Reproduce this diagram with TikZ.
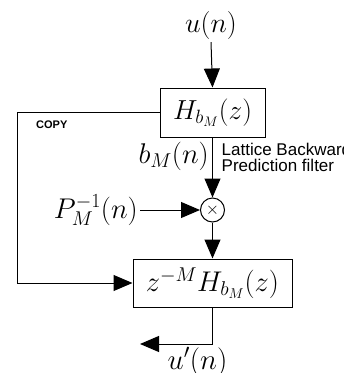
\RequirePackage{fix-cm}
\documentclass[tikz,border=0pt]{standalone}
\usepackage{fontspec}
\newfontfamily\labelsans{Liberation Sans}
\usetikzlibrary{arrows.meta}
\begin{document}
\begin{tikzpicture}[x=1pt,y=-1pt,
  wire/.style={line width=1pt},
  sig/.style={wire,-{Triangle[length=19pt,width=16pt]}},
  block/.style={draw,line width=1pt,inner sep=0pt},
  mathlbl/.style={inner sep=0pt},
  mixer/.style={draw,circle,line width=1pt,minimum size=24pt,inner sep=0pt,font=\fontsize{17}{18}\selectfont},
  note/.style={inner sep=0pt,align=left,font=\labelsans\fontsize{17}{16}\selectfont},
  tag/.style={inner sep=0pt,font=\labelsans\bfseries\fontsize{11}{12}\selectfont}]
\useasboundingbox (0,0) rectangle (344,373);

% signal labels
\node[mathlbl,font=\fontsize{28}{30}\selectfont] (u) at (211,25) {$u(n)$};
\node[mathlbl,font=\fontsize{28.5}{30}\selectfont,anchor=east] (b) at (209,156) {$b_M(n)$};
\node[mathlbl,font=\fontsize{28.5}{30}\selectfont,anchor=east] (p) at (138,210) {$P_M^{-1}(n)$};
\node[mathlbl,font=\fontsize{29}{31}\selectfont] (uo) at (197.5,362) {$u'(n)$};

% filter blocks and multiplier
\node[block,font=\fontsize{27.5}{30}\selectfont,minimum width=105pt,minimum height=49pt] (h1) at (212.5,112.5) {$H_{b_M}(z)$};
\node[block,font=\fontsize{28.5}{30}\selectfont,minimum width=159pt,minimum height=48pt] (h2) at (212.5,283) {$z^{-M}H_{b_M}(z)$};
\node[mixer] (m) at (212.5,210) {$\times$};

% annotations
\node[note,anchor=north west] (lat) at (221.5,143) {Lattice Backward\\Prediction filter};
\node[tag,anchor=base west] (copy) at (36,128) {COPY};

% connectors
\coordinate (cp) at (17.5,112.5);
\coordinate (out) at (140,344);
\draw[sig] (u.south) ++(0,3) -- (h1.north);
\draw[sig] (h1.south) -- (m.north);
\draw[sig] (p.east) ++(2,0) -- (m.west);
\draw[sig] (m.south) -- (h2.north);
\draw[sig] (h1.west) -- (cp) |- (h2.west);
\draw[sig] (h2.south) |- (out);
\end{tikzpicture}
\end{document}
